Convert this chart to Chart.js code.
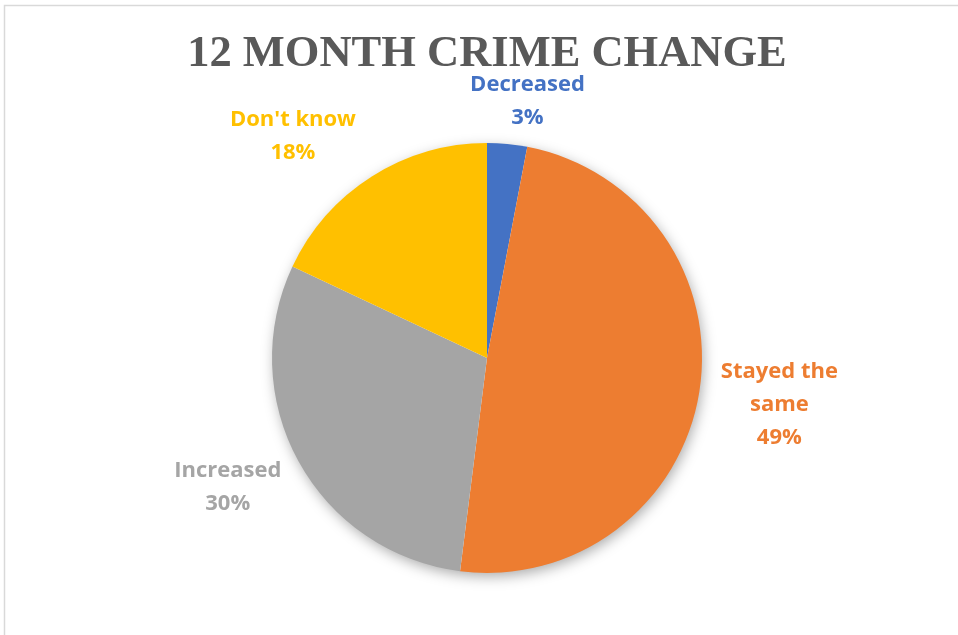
<!DOCTYPE html>
<html>
<head>
<meta charset="utf-8">
<script src="https://cdn.jsdelivr.net/npm/chart.js@4/dist/chart.umd.min.js"></script>
<style>
  html, body { margin: 0; padding: 0; background: #fff; }
  #wrap { width: 958px; height: 635px; }
</style>
</head>
<body>
<div id="wrap"><canvas id="crimeChart" width="958" height="635"></canvas></div>
<script>
const categories = ['Decreased', 'Stayed the same', 'Increased', "Don't know"];
const percents = [3, 49, 30, 18];
const sliceColors = ['#4472C4', '#ED7D31', '#A5A5A5', '#FFC000'];
// label text is wrapped the way it shows next to each slice
const labelLines = [['Decreased'], ['Stayed the', 'same'], ['Increased'], ["Don't know"]];

// frame + title, drawn behind everything
const framePlugin = {
  id: 'frame',
  beforeDraw(chart) {
    const ctx = chart.ctx;
    ctx.save();
    ctx.strokeStyle = '#d9d9d9';
    ctx.lineWidth = 1.5;
    ctx.strokeRect(4.5, 5.5, 1000, 1000);
    ctx.fillStyle = '#595959';
    ctx.font = 'bold 44.5px "Liberation Serif", serif';
    ctx.textAlign = 'center';
    ctx.textBaseline = 'alphabetic';
    ctx.fillText('12 MONTH CRIME CHANGE', 487, 66);
    ctx.restore();
  }
};

// soft shadow under the whole pie
const shadowPlugin = {
  id: 'pieShadow',
  beforeDatasetsDraw(chart) {
    const arc = chart.getDatasetMeta(0).data[0];
    if (!arc) return;
    const ctx = chart.ctx;
    ctx.save();
    ctx.shadowColor = 'rgba(0,0,0,0.35)';
    ctx.shadowBlur = 14;
    ctx.shadowOffsetX = 2;
    ctx.shadowOffsetY = 4;
    ctx.fillStyle = '#fff';
    ctx.beginPath();
    ctx.arc(arc.x, arc.y, arc.outerRadius - 1, 0, Math.PI * 2);
    ctx.fill();
    ctx.restore();
  }
};

// outside labels: category + percent, coloured like the slice
const outsideLabels = {
  id: 'outsideLabels',
  afterDatasetsDraw(chart, args, opts) {
    const meta = chart.getDatasetMeta(0);
    const ctx = chart.ctx;
    ctx.save();
    ctx.font = 'bold 22px "Open Sans", sans-serif';
    ctx.textAlign = 'center';
    ctx.textBaseline = 'middle';
    meta.data.forEach((arc, i) => {
      const mid = (arc.startAngle + arc.endAngle) / 2;
      const r = arc.outerRadius + opts.gap[i];
      const x = arc.x + Math.cos(mid) * r + opts.nudge[i][0];
      const y = arc.y + Math.sin(mid) * r + opts.nudge[i][1];
      const lines = labelLines[i].concat([percents[i] + '%']);
      const lh = 33;
      const top = y - (lines.length - 1) * lh / 2;
      ctx.fillStyle = sliceColors[i];
      lines.forEach((t, k) => ctx.fillText(t, x, top + k * lh));
    });
    ctx.restore();
  }
};

new Chart(document.getElementById('crimeChart'), {
  type: 'pie',
  data: {
    labels: categories,
    datasets: [{
      data: percents,
      backgroundColor: sliceColors,
      borderWidth: 0
    }]
  },
  options: {
    responsive: false,
    animation: false,
    layout: { padding: { top: 143, bottom: 62, left: 272, right: 256 } },
    plugins: {
      legend: { display: false },
      title: { display: false },
      tooltip: { enabled: false },
      outsideLabels: {
        gap: [45, 81, 74, 80],
        nudge: [[16, 2], [0, 0], [-6, -10], [-36, 27]]
      }
    }
  },
  plugins: [framePlugin, shadowPlugin, outsideLabels]
});
</script>
</body>
</html>
